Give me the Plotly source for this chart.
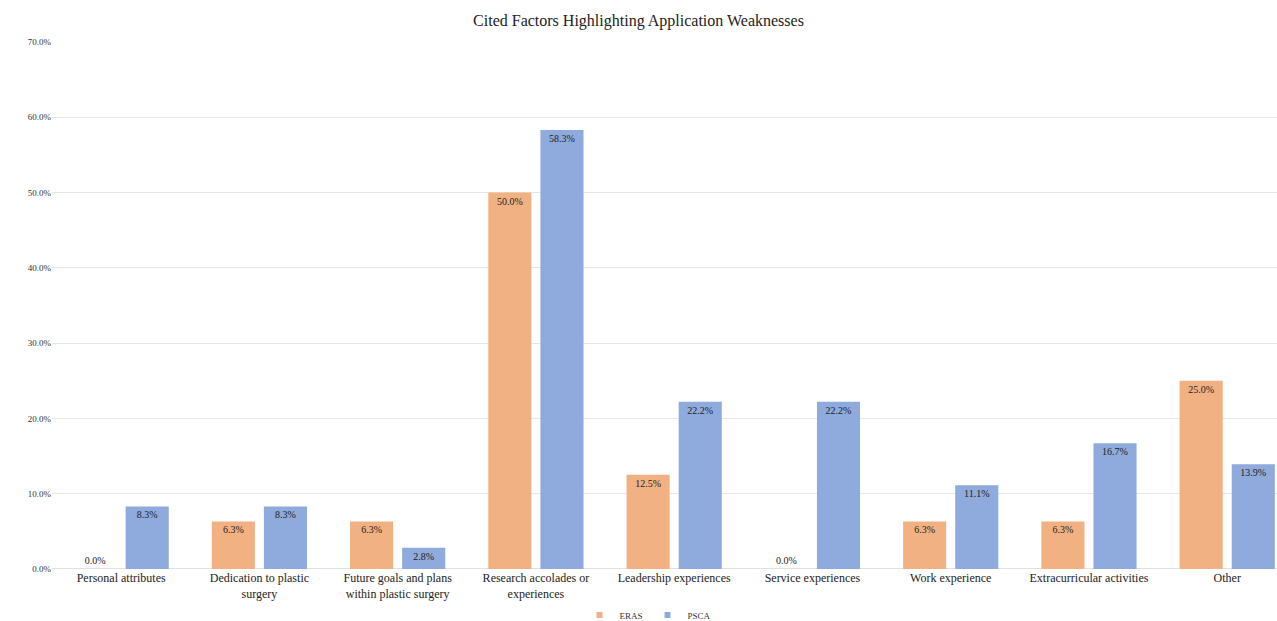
import plotly.graph_objects as go

categories = [
    "Personal attributes",
    "Dedication to plastic<br>surgery",
    "Future goals and plans<br>within plastic surgery",
    "Research accolades or<br>experiences",
    "Leadership experiences",
    "Service experiences",
    "Work experience",
    "Extracurricular activities",
    "Other",
]
eras = [0.0, 6.3, 6.3, 50.0, 12.5, 0.0, 6.3, 6.3, 25.0]
psca = [8.3, 8.3, 2.8, 58.3, 22.2, 22.2, 11.1, 16.7, 13.9]
y_ticks = [0, 10, 20, 30, 40, 50, 60, 70]

FONT = "Liberation Serif"
x = list(range(len(categories)))


def positions(vals):
    return ["outside" if v == 0 else "inside" for v in vals]


fig = go.Figure()
series = [("ERAS", eras, "#F2B183"), ("PSCA", psca, "#8FAADC")]
for name, vals, color in series:
    fig.add_trace(go.Bar(
        name=name, x=x, y=vals, marker=dict(color=color, line=dict(width=0)),
        texttemplate="%{y:.1f}%", textposition=positions(vals),
        insidetextanchor="end", constraintext="none",
        textfont=dict(family=FONT, size=10, color="#222222"),
        outsidetextfont=dict(family=FONT, size=10, color="#222222"),
        cliponaxis=False, showlegend=False,
    ))
for name, vals, color in series:
    fig.add_trace(go.Scatter(
        name=name, x=[None], y=[None], mode="markers",
        marker=dict(symbol="square", size=6, color=color), showlegend=True,
    ))

fig.update_layout(
    width=1277, height=621,
    margin=dict(l=52, r=0, t=42, b=51),
    paper_bgcolor="white", plot_bgcolor="white",
    barmode="group", bargap=0.246, bargroupgap=0.173,
    title=dict(text="Cited Factors Highlighting Application Weaknesses",
               x=0.5, xref="container", y=1 - 20 / 621, yref="container",
               yanchor="middle", font=dict(family=FONT, size=16, color="#222222")),
    font=dict(family=FONT, color="#222222"),
    legend=dict(orientation="h", xref="container", yref="container",
                x=648 / 1277, y=1 - 615 / 621, xanchor="center", yanchor="middle",
                font=dict(family=FONT, size=9, color="#333333"),
                itemwidth=30, traceorder="normal", tracegroupgap=0),
    showlegend=True,
)
fig.update_xaxes(
    tickmode="array", tickvals=x, ticktext=categories,
    range=[-0.5, 8.36], showgrid=False, showline=False, ticks="",
    tickfont=dict(family=FONT, size=12, color="#222222"),
)
fig.update_yaxes(
    range=[0, 70], tickvals=y_ticks, ticktext=[f"{t:.1f}%" for t in y_ticks],
    showgrid=True, gridcolor="#E6E6E6", gridwidth=1, zeroline=True,
    zerolinecolor="#E0E0E0", zerolinewidth=1, showline=False, ticks="",
    tickfont=dict(family=FONT, size=9, color="#333333"),
)

fig.write_html("out.html")
